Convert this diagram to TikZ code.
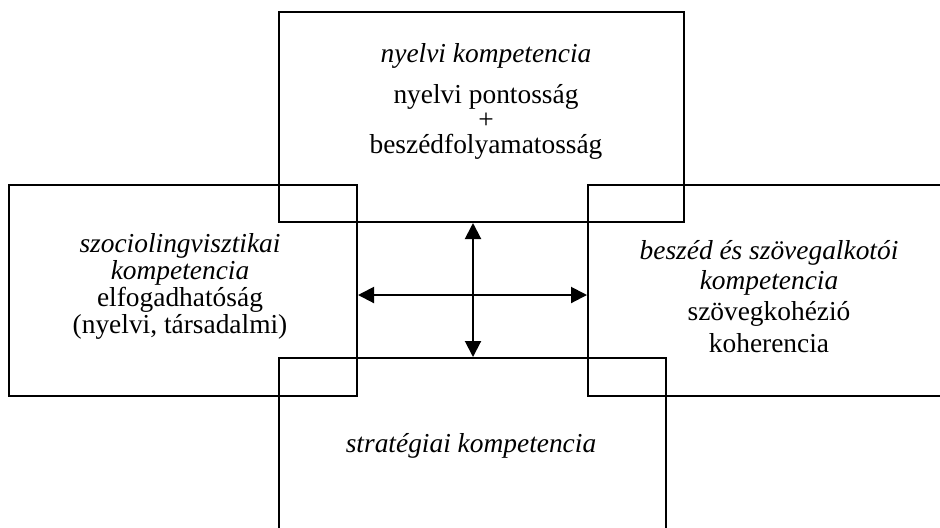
\documentclass[tikz,border=0pt]{standalone}
\usepackage{fontspec}
\setmainfont{Liberation Serif}
\usetikzlibrary{arrows.meta}
\tikzset{
	box_style/.style = {shape=rectangle, draw=black, line width=1pt, inner sep=0pt},
	head_style/.style = {anchor=base, inner sep=0pt, font=\fontsize{13.7}{15}\selectfont\itshape},
	text_style/.style = {anchor=base, inner sep=0pt, font=\fontsize{13.7}{15}\selectfont},
	arrow_style/.style = {line width=1pt, {Triangle[length=8pt,width=8pt]}-{Triangle[length=8pt,width=8pt]}}
}

\begin{document}
\begin{tikzpicture}[x=0.5pt, y=-0.5pt]
	\useasboundingbox (0,0) rectangle (940,527);
	\clip (0,0) rectangle (940,527);
	% all the boxes
	\node[box_style, minimum width=202.5pt, minimum height=105pt] (nyelvi) at (481.5,117) {};
	\node[box_style, minimum width=174pt, minimum height=105.5pt] (szocio) at (183,290.5) {};
	\node[box_style, minimum width=196pt, minimum height=105.5pt] (beszed) at (784,290.5) {};
	\node[box_style, minimum width=193.5pt, minimum height=101pt] (strat) at (472.5,459) {};
	
	% texts
	\node[head_style] (nyelvi_h) at (486,62) {nyelvi kompetencia};
	\node[text_style] (nyelvi_1) at (486,103) {nyelvi pontosság};
	\node[text_style] (nyelvi_2) at (486,128) {+};
	\node[text_style] (nyelvi_3) at (486,153) {beszédfolyamatosság};
	
	\node[head_style] (szocio_h1) at (180,252) {szociolingvisztikai};
	\node[head_style] (szocio_h2) at (180,279) {kompetencia};
	\node[text_style] (szocio_1) at (180,306) {elfogadhatóság};
	\node[text_style] (szocio_2) at (180,333) {(nyelvi, társadalmi)};
	
	\node[head_style] (beszed_h1) at (769,259) {beszéd és szövegalkotói};
	\node[head_style] (beszed_h2) at (769,289) {kompetencia};
	\node[text_style] (beszed_1) at (769,320) {szövegkohézió};
	\node[text_style] (beszed_2) at (769,352) {koherencia};
	
	\node[head_style] (strat_h) at (471,452) {stratégiai kompetencia};
	
	% arrows
	\coordinate (kozep) at (473,295);
	\draw[arrow_style] (kozep |- nyelvi.south) -- (kozep |- strat.north);
	\draw[arrow_style] (szocio.east |- kozep) -- (beszed.west |- kozep);
\end{tikzpicture}
\end{document}
